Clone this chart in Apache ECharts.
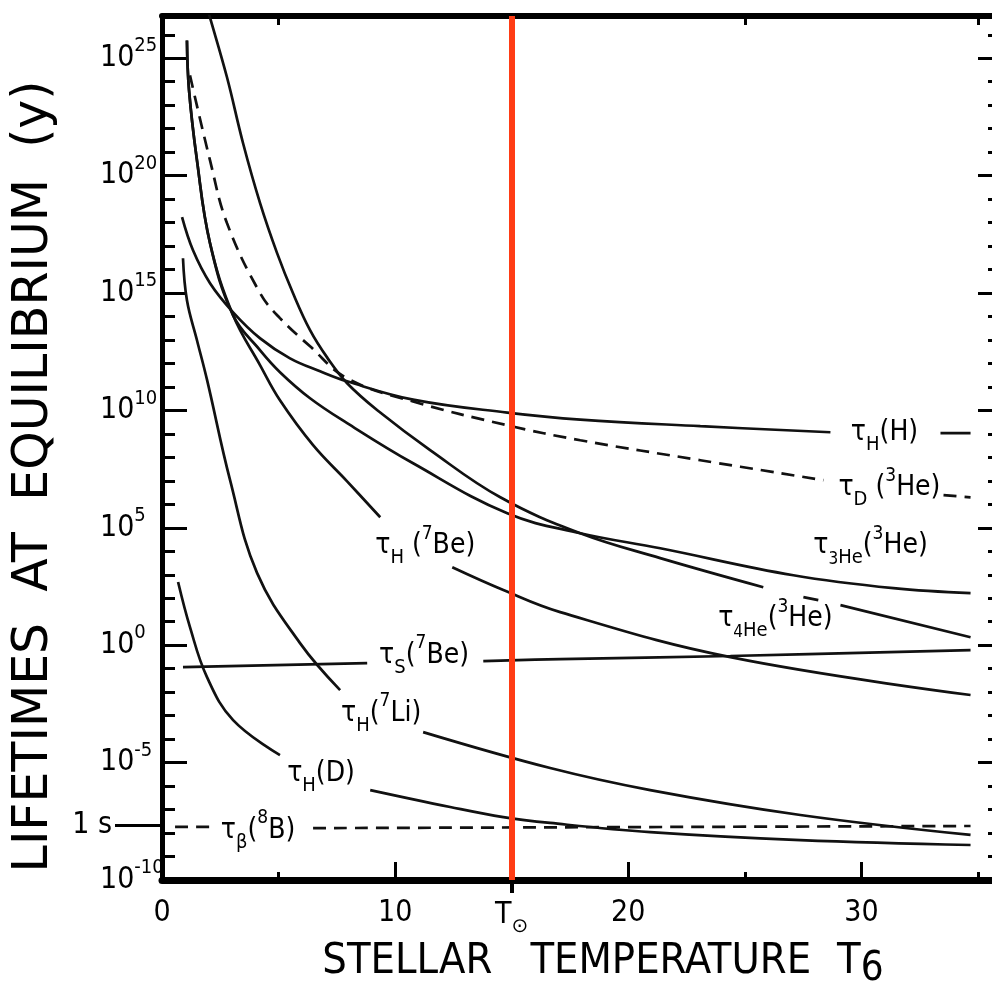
<!DOCTYPE html>
<html><head><meta charset="utf-8">
<script src="https://cdn.jsdelivr.net/npm/echarts@6/dist/echarts.min.js"></script>
<style>html,body{margin:0;padding:0;background:#fff}#c{width:992px;height:990px}</style>
</head><body><div id="c"></div>
<script>
// ---- Data: x = stellar temperature T6, y = log10(lifetime at equilibrium / years); null = gap for a curve label
const T_SUN = 15;
const ONE_SECOND_LOG_YR = -7.65;   // position of the "1 s" mark as drawn
const yMajorTicks = [-10, -5, 0, 5, 10, 15, 20, 25];
const yMinorTicks = [-10,-9,-8,-7,-6,-5,-4,-3,-2,-1,0,1,2,3,4,5,6,7,8,9,10,11,12,13,14,15,16,17,18,19,20,21,22,23,24,25,26];
const xMajorTicks = [0, 10, 20, 30];
const xMinorTicks = [5, 15, 25, 35];

const tauH_H = [[0.86,18.23],[1.33,16.82],[2.06,15.42],[3.05,14.18],[4.21,13.07],[5.49,12.22],[6.78,11.67],[7.94,11.24],[10.77,10.46],[14.81,9.91],[17.94,9.61],[23.09,9.33],[28.67,9.07],null,[33.39,9.03],[34.68,9.03]];
const tauD_3He = [[1.20,24.27],[2.06,20.65],[2.79,17.97],[4.21,14.99],[5.06,13.93],[6.35,12.73],[7.94,11.37],[10.77,10.38],[14.81,9.37],[17.94,8.73],[23.09,7.88],[28.37,7.03],null,[33.52,6.39],[34.68,6.30]];
const tau4He_3He = [[1.85,27.46],[2.02,26.87],[2.79,24.18],[3.48,21.37],[4.21,18.82],[4.94,16.69],[5.62,14.99],[6.35,13.42],[7.08,12.26],[7.94,11.16],[9.36,9.91],[11.50,8.31],[14.51,6.30],[17.94,4.77],[21.37,3.71],[25.79,2.47],null,[27.51,2.05],[28.15,1.92],null,[29.10,1.71],[34.68,0.34]];
const tau3He_3He = [[1.07,25.76],[1.16,23.63],[1.50,20.65],[2.06,17.12],[3.05,14.05],[4.21,12.56],[5.06,11.63],[6.35,10.52],[7.94,9.46],[10.77,7.75],[14.81,5.62],[17.94,4.77],[21.37,4.13],[27.08,2.98],[31.37,2.43],[34.68,2.22]];
const tauH_7Be = [[1.07,25.76],[1.16,23.63],[1.50,20.65],[2.06,17.12],[3.05,14.05],[4.21,11.92],[5.06,10.43],[6.48,8.52],[7.94,6.98],[9.36,5.45],null,[12.45,3.32],[14.64,2.35],[17.08,1.41],[24.38,-0.51],[34.68,-2.12]];
const tauS_7Be = [[0.90,-0.93],[8.80,-0.76],null,[13.78,-0.68],[17.08,-0.59],[24.38,-0.46],[34.68,-0.21]];
const tauH_7Li = [[0.90,16.48],[1.07,14.69],[1.50,12.99],[1.93,11.31],[2.92,7.03],[4.08,3.07],[5.92,0.09],[7.64,-1.91],null,[11.20,-3.70],[16.65,-5.23],[20.94,-6.17],[27.38,-7.23],[34.68,-8.08]];
const tauH_D = [[0.69,2.69],[1.20,0.77],[1.93,-1.36],[3.05,-3.19],[5.06,-4.68],null,[8.93,-6.17],[12.36,-6.89],[14.64,-7.32],[16.65,-7.57],[20.94,-7.96],[27.38,-8.30],[34.68,-8.51]];
const tauBeta_8B = [[0.56,-7.74],[2.06,-7.74],null,[6.48,-7.79],[34.68,-7.70]];

// curve labels: anchors [T6, log10 y] and texts
const labelNames = ['τH(H)', 'τD(3He)', 'τ3He(3He)', 'τ4He(3He)', 'τH(7Be)', 'τS(7Be)', 'τH(7Li)', 'τH(D)', 'τβ(8B)'];
const labelRich = ['{t|τ}{s|H}{t|(H)}', '{t|τ}{s|D}{t| (}{p|3}{t|He)}', '{t|τ}{ss|3}{s|He}{t|(}{p|3}{t|He)}', '{t|τ}{ss|4}{s|He}{t|(}{p|3}{t|He)}', '{t|τ}{s|H}{t| (}{p|7}{t|Be)}', '{t|τ}{s|S}{t|(}{p|7}{t|Be)}', '{t|τ}{s|H}{t|(}{p|7}{t|Li)}', '{t|τ}{s|H}{t|(D)}', '{t|τ}{s|β}{t|(}{p|8}{t|B)}'];
const labelX = [30.99, 31.2, 30.39, 26.31, 11.29, 11.24, 9.40, 6.82, 4.12];
const labelY = [9.03, 6.69, 4.22, 1.11, 4.22, -0.46, -2.93, -5.49, -7.91];

const FONT = "'DejaVu Sans Condensed','Liberation Sans Narrow',sans-serif";
const INK = '#000';

const curves = [
  {d: tauH_H, dash: false}, {d: tauD_3He, dash: true}, {d: tau4He_3He, dash: false},
  {d: tau3He_3He, dash: false}, {d: tauH_7Be, dash: false}, {d: tauS_7Be, dash: false},
  {d: tauH_7Li, dash: false}, {d: tauH_D, dash: false}, {d: tauBeta_8B, dash: true}
];
function segments(pts) {
  const segs = [[]];
  pts.forEach(p => { if (p === null) segs.push([]); else segs[segs.length - 1].push(p); });
  return segs.filter(s => s.length > 1);
}
const series = [];
curves.forEach(c => segments(c.d).forEach(seg => series.push({
  type: 'line', xAxisIndex: 0, yAxisIndex: 0, data: seg, symbol: 'none', showSymbol: false,
  smooth: 0.4, clip: true, silent: true,
  lineStyle: {color: '#111', width: 2.7, type: c.dash ? [13, 8] : 'solid'}
})));

const rich = {
  t: {fontSize: 28, fontFamily: FONT, color: INK, lineHeight: 44, verticalAlign: 'middle'},
  s: {fontSize: 20, fontFamily: FONT, color: INK, lineHeight: 22, verticalAlign: 'bottom'},
  ss: {fontSize: 17, fontFamily: FONT, color: INK, lineHeight: 30, verticalAlign: 'bottom'},
  p: {fontSize: 19, fontFamily: FONT, color: INK, lineHeight: 22, verticalAlign: 'top'}
};
series.push({
  type: 'scatter', xAxisIndex: 0, yAxisIndex: 0, symbol: 'circle', symbolSize: 1, silent: true,
  itemStyle: {color: '#fff', opacity: 1}, z: 4,
  data: labelNames.map((n, i) => ({name: n, value: [labelX[i], labelY[i]], label: {formatter: labelRich[i]}})),
  label: {show: true, position: 'inside', rich: rich, color: INK, textBorderWidth: 0}
});
series.push({
  type: 'line', xAxisIndex: 0, yAxisIndex: 0, data: [], z: 10, silent: true,
  markLine: {silent: true, symbol: 'none', animation: false, label: {show: false},
    lineStyle: {color: '#ff3c14', width: 6, type: 'solid'}, data: [{xAxis: T_SUN}]}
});

const G = {left: 162, right: 0, top: 16, bottom: 110, containLabel: false, outerBoundsMode: 'none'};
const XMAX = 35.6, YMIN = -10, YMAX = 26.8;
const noSplit = {show: false};
const line = w => ({show: true, onZero: false, lineStyle: {color: INK, width: w}});
const noLine = {show: false, onZero: false};
const tick = (len, inside, vals, w) => ({show: true, inside: inside, length: len, customValues: vals, lineStyle: {color: INK, width: w || 3}});

const option = {
  animation: false,
  backgroundColor: '#fff',
  grid: [Object.assign({}, G), Object.assign({}, G), Object.assign({}, G)],
  xAxis: [
    {gridIndex: 0, type: 'value', position: 'bottom', min: 0, max: XMAX,
     axisLine: line(7), axisTick: tick(18, true, [10, 20, 30]), splitLine: noSplit,
     axisLabel: {customValues: xMajorTicks, margin: 18, fontSize: 30, fontFamily: FONT, color: INK},
     name: '{l|}{a|STELLAR}{g1|}{a|TEMPERATURE}{g2|}{a|T}{b|6}', nameLocation: 'middle', nameGap: 60,
     nameTextStyle: {rich: {
       l: {width: 52},
       a: {fontSize: 43, fontFamily: FONT, color: INK, lineHeight: 52, verticalAlign: 'top'},
       g1: {width: 38}, g2: {width: 26},
       b: {fontSize: 40, fontFamily: FONT, color: INK, lineHeight: 72, verticalAlign: 'top', padding: [10, 0, 0, 0]}}}},
    {gridIndex: 0, type: 'value', position: 'top', min: 0, max: XMAX,
     axisLine: line(6), axisTick: tick(9, true, xMinorTicks), axisLabel: {show: false}, splitLine: noSplit},
    {gridIndex: 1, type: 'value', position: 'bottom', min: 0, max: XMAX,
     axisLine: noLine, axisTick: tick(8, true, xMinorTicks), axisLabel: {show: false}, splitLine: noSplit},
    {gridIndex: 2, type: 'value', position: 'bottom', min: 0, max: XMAX,
     axisLine: noLine, axisTick: tick(13, false, [T_SUN], 4),
     axisLabel: {customValues: [T_SUN], margin: 20, formatter: () => '{t|T}{o|⊙}', rich: {
       t: {fontSize: 30, fontFamily: FONT, color: INK, lineHeight: 30, verticalAlign: 'top'},
       o: {fontSize: 20, fontFamily: "'DejaVu Sans',sans-serif", color: INK, lineHeight: 54, verticalAlign: 'middle'}}},
     splitLine: noSplit}
  ],
  yAxis: [
    {gridIndex: 0, type: 'value', position: 'left', min: YMIN, max: YMAX,
     axisLine: line(5), axisTick: tick(25, true, yMajorTicks), splitLine: noSplit,
     axisLabel: {customValues: yMajorTicks, margin: 62, align: 'left', formatter: v => '{b|10}{e|' + v + '}',
       rich: {b: {fontSize: 30, fontFamily: FONT, color: INK, lineHeight: 44, verticalAlign: 'middle'},
              e: {fontSize: 20, fontFamily: FONT, color: INK, lineHeight: 24, verticalAlign: 'top'}}},
     name: '{a|LIFETIMES  AT  EQUILIBRIUM  (y)}{g|}', nameLocation: 'middle', nameRotate: 90, nameGap: 103,
     nameTextStyle: {rich: {a: {fontSize: 49, fontFamily: "'DejaVu Sans',sans-serif", color: INK}, g: {width: 57}}}},
    {gridIndex: 0, type: 'value', position: 'right', min: YMIN, max: YMAX,
     axisLine: noLine, axisTick: tick(14, true, yMajorTicks), axisLabel: {show: false}, splitLine: noSplit},
    {gridIndex: 1, type: 'value', position: 'left', min: YMIN, max: YMAX,
     axisLine: noLine, axisTick: tick(13, true, yMinorTicks), axisLabel: {show: false}, splitLine: noSplit},
    {gridIndex: 1, type: 'value', position: 'right', min: YMIN, max: YMAX,
     axisLine: noLine, axisTick: tick(4, true, yMinorTicks), axisLabel: {show: false}, splitLine: noSplit},
    {gridIndex: 2, type: 'value', position: 'left', min: YMIN, max: YMAX,
     axisLine: noLine, axisTick: tick(47, false, [ONE_SECOND_LOG_YR]),
     axisLabel: {customValues: [ONE_SECOND_LOG_YR], margin: 50, formatter: () => '1 s', fontSize: 30, fontFamily: FONT, color: INK},
     splitLine: noSplit}
  ],
  series: series
};
const chart = echarts.init(document.getElementById('c'), null, {renderer: 'canvas'});
chart.setOption(option);
</script></body></html>
